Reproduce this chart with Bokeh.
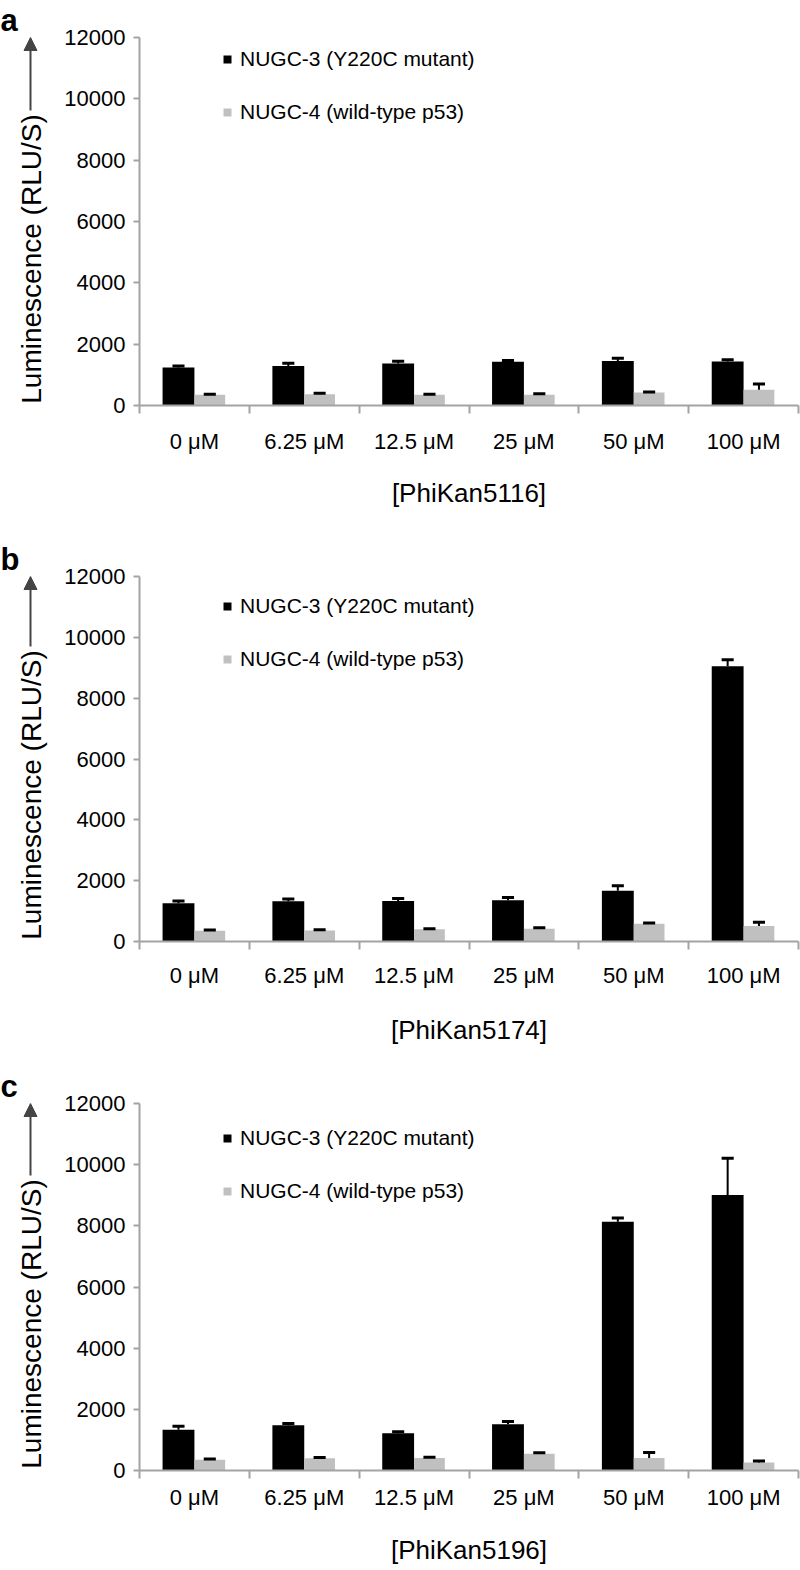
import numpy as np
from bokeh.plotting import figure
from bokeh.layouts import column, row
from bokeh.models import (Range1d, FixedTicker, Arrow, NormalHead,
                          Legend, LegendItem)
from bokeh.core.properties import value
from bokeh.embed import file_html
from bokeh.resources import INLINE

# ---------------- data ----------------
categories = ["0 μM", "6.25 μM", "12.5 μM", "25 μM", "50 μM", "100 μM"]
compounds = ["[PhiKan5116]", "[PhiKan5174]", "[PhiKan5196]"]
letters = ["a", "b", "c"]
series_names = ["NUGC-3 (Y220C mutant)", "NUGC-4 (wild-type p53)"]
y_title = "Luminescence (RLU/S)"
y_ticks = [0, 2000, 4000, 6000, 8000, 10000, 12000]

a_nugc3 = [1240, 1290, 1370, 1425, 1455, 1435]
a_nugc3_err = [45, 90, 75, 45, 85, 55]
a_nugc4 = [350, 370, 350, 350, 425, 510]
a_nugc4_err = [20, 30, 20, 30, 15, 195]

b_nugc3 = [1255, 1320, 1335, 1355, 1665, 9050]
b_nugc3_err = [75, 80, 75, 90, 165, 210]
b_nugc4 = [355, 365, 400, 420, 580, 510]
b_nugc4_err = [22, 22, 22, 35, 30, 120]

c_nugc3 = [1335, 1480, 1220, 1510, 8130, 9010]
c_nugc3_err = [110, 55, 45, 90, 125, 1200]
c_nugc4 = [355, 400, 410, 545, 410, 265]
c_nugc4_err = [22, 22, 22, 35, 180, 45]

FONT = "Liberation Sans"
AXC = "#a3a3a3"
GRAY = "#c0c0c0"
STRIP_W = 56
MAIN_W = 744
FRAME_LEFT = 83     # frame starts at page x = 139
FRAME_W = 659


def make_strip(letter, height, frame_h):
    """Left strip (its frame is aligned with the panel's frame by the row
    layout) holding the panel letter (as title) and the y-axis title."""
    s = figure(width=STRIP_W, height=height, x_range=Range1d(0, STRIP_W),
               y_range=Range1d(0, frame_h), output_backend="svg",
               toolbar_location=None, min_border=0)
    s.axis.visible = False
    s.grid.visible = False
    s.outline_line_color = None
    s.background_fill_color = "white"
    s.title.text = letter
    s.title.align = "left"
    s.title.text_font = FONT
    s.title.text_font_size = "31px"
    s.title.text_font_style = "bold"
    s.title.text_color = "black"
    s.title.standoff = 0
    title_len = 287
    s.text(x=[31], y=[title_len / 2.0 + 3], text=[y_title],
           angle=np.pi / 2, text_font=value(FONT), text_font_size="28px",
           text_color="black", text_align="center", text_baseline="middle")
    s.add_layout(Arrow(x_start=30, y_start=title_len + 8,
                       x_end=30, y_end=frame_h,
                       line_color="#444444", line_width=2,
                       end=NormalHead(size=13, fill_color="#444444",
                                      line_color="#444444")))
    return s


def make_panel(compound, mut, mut_err, wt, wt_err,
               height, top, frame_h, legend_top, lab_standoff, title_standoff):
    bottom = height - top - frame_h
    p = figure(width=MAIN_W, height=height, x_range=Range1d(0, 6),
               y_range=Range1d(0, 12000), output_backend="svg",
               toolbar_location=None, min_border_left=FRAME_LEFT,
               min_border_right=MAIN_W - FRAME_LEFT - FRAME_W,
               min_border_top=top, min_border_bottom=bottom)
    p.outline_line_color = None
    p.grid.visible = False
    p.background_fill_color = "white"

    xc = np.arange(len(categories)) + 0.5
    xm = xc - 0.145
    xw = xc + 0.14
    r1 = p.vbar(x=xm, width=0.29, top=mut, bottom=0, fill_color="black",
                line_color=None)
    r2 = p.vbar(x=xw, width=0.28, top=wt, bottom=0, fill_color=GRAY,
                line_color=None)
    for xs, v, e in ((xm, mut, mut_err), (xw, wt, wt_err)):
        v = np.array(v, dtype=float)
        t = v + np.array(e, dtype=float)
        p.segment(x0=xs, y0=v, x1=xs, y1=t, line_color="black", line_width=2)
        p.segment(x0=xs - 0.055, y0=t, x1=xs + 0.055, y1=t,
                  line_color="black", line_width=3)

    # x axis
    xa = p.xaxis[0]
    xa.ticker = FixedTicker(ticks=list(xc), minor_ticks=list(range(7)))
    xa.major_label_overrides = {float(x): c for x, c in zip(xc, categories)}
    xa.major_tick_out = 0
    xa.major_tick_in = 0
    xa.minor_tick_out = 8
    xa.minor_tick_in = 0
    xa.minor_tick_line_color = AXC
    xa.minor_tick_line_width = 2
    xa.axis_line_color = AXC
    xa.axis_line_width = 2
    xa.major_label_text_font = FONT
    xa.major_label_text_font_size = "22px"
    xa.major_label_text_color = "black"
    xa.major_label_standoff = lab_standoff
    xa.axis_label = compound
    xa.axis_label_text_font = FONT
    xa.axis_label_text_font_size = "26px"
    xa.axis_label_text_font_style = "normal"
    xa.axis_label_text_color = "black"
    xa.axis_label_standoff = title_standoff

    # y axis
    ya = p.yaxis[0]
    ya.ticker = FixedTicker(ticks=y_ticks, minor_ticks=[])
    ya.major_tick_out = 6
    ya.major_tick_in = 0
    ya.major_tick_line_color = AXC
    ya.major_tick_line_width = 2
    ya.axis_line_color = AXC
    ya.axis_line_width = 2
    ya.major_label_text_font = FONT
    ya.major_label_text_font_size = "22px"
    ya.major_label_text_color = "black"
    ya.major_label_standoff = 8

    # legend
    leg = Legend(items=[LegendItem(label=series_names[0], renderers=[r1]),
                        LegendItem(label=series_names[1], renderers=[r2])],
                 location=(83, frame_h - legend_top - 74),
                 glyph_width=10, glyph_height=10, label_height=22,
                 label_standoff=8, spacing=29, padding=0, margin=0,
                 border_line_alpha=0, background_fill_alpha=0,
                 label_text_font=FONT, label_text_font_size="21px",
                 label_text_color="black")
    p.add_layout(leg)
    return p


specs = [
    # letter, compound, data..., height, top, frame_h, legend_top, standoffs
    (letters[0], compounds[0], a_nugc3, a_nugc3_err, a_nugc4, a_nugc4_err,
     525, 37, 368, 13, 15, 21),
    (letters[1], compounds[1], b_nugc3, b_nugc3_err, b_nugc4, b_nugc4_err,
     528, 51, 365, 21, 13, 24),
    (letters[2], compounds[2], c_nugc3, c_nugc3_err, c_nugc4, c_nugc4_err,
     515, 50, 367, 26, 6, 22),
]

rows = []
for (let, comp, m, me, w, we, h, top, fh, lt, ls, ts) in specs:
    strip = make_strip(let, h, fh)
    panel = make_panel(comp, m, me, w, we, h, top, fh, lt, ls, ts)
    rows.append(row(strip, panel, spacing=0))

layout = column(*rows, spacing=0)
open("out.html", "w").write(file_html(layout, INLINE))
